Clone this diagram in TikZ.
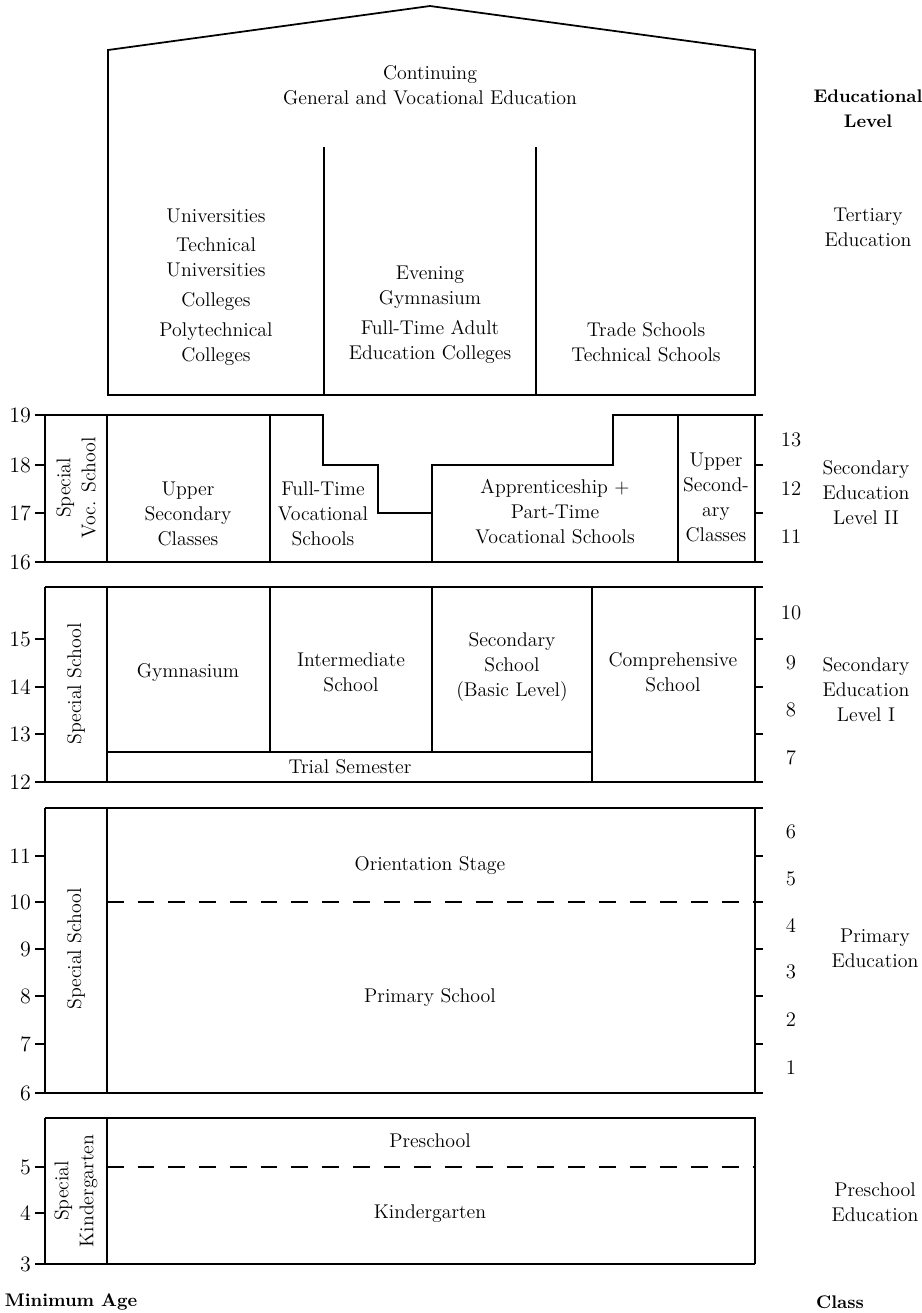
\documentclass[tikz,border=0pt]{standalone}
\usepackage{tikz}
\usetikzlibrary{positioning}
\tikzset{
        every node/.style={inner sep=0pt, outer sep=0pt},
        box/.style={
                line width=1pt,
                line join=miter
            },
        split/.style={
                line width=1pt,
                dash pattern=on 9.5pt off 8pt
            },
        schooltext/.style={
                align=center,
                font=\fontsize{11.3}{14.2}\selectfont
            },
        headtext/.style={
                align=center,
                font=\fontsize{10.4}{14.2}\selectfont\bfseries
            },
        agenum/.style={
                anchor=east,
                font=\fontsize{12.5}{14.2}\selectfont
            },
        classnum/.style={
                font=\fontsize{11.8}{14.2}\selectfont
            },
}

\begin{document}
\begin{tikzpicture}[x=0.02cm, y=-0.02cm]
  \useasboundingbox (0,0) rectangle (922,1313);
  % Tertiary (house)
  \draw[box] (108,395) -- (108,50) -- (430,6) -- (755,50) -- (755,395) -- cycle;
  \draw[box] (324,147) -- (324,395);
  \draw[box] (536,147) -- (536,395);
  \node[schooltext] (cont) at (430,85) {Continuing\\General and Vocational Education};
  \node[schooltext] (univ) at (216,287) {Universities\\[2.8pt]Technical\\Universities\\[2.8pt]Colleges\\[2.8pt]Polytechnical\\Colleges};
  \node[schooltext] (evening) at (430,315) {Evening\\Gymnasium\\[3pt]Full-Time Adult\\Education Colleges};
  \node[schooltext] (trade) at (646,342) {Trade Schools\\Technical Schools};

  % Secondary level II
  \draw[box] (35,415) -- (323,415) -- (323,465) -- (378,465) -- (378,513) -- (432,513)
    -- (432,465) -- (613,465) -- (613,415) -- (763,415);
  \draw[box] (35,562) -- (763,562);
  \draw[box] (45,415) -- (45,562);
  \draw[box] (107,415) -- (107,562);
  \draw[box] (270,415) -- (270,562);
  \draw[box] (432,513) -- (432,562);
  \draw[box] (678,415) -- (678,562);
  \draw[box] (755,415) -- (755,562);
  \node[schooltext, rotate=90] (specvoc) at (76,488) {Special\\Voc. School};
  \node[schooltext] (uppsec) at (188,514) {Upper\\Secondary\\Classes};
  \node[schooltext] (fulltime) at (323,514) {Full-Time\\Vocational\\Schools};
  \node[schooltext] (appr) at (555,512) {Apprenticeship +\\Part-Time\\Vocational Schools};
  \node[schooltext] (uppsecb) at (716,497) {Upper\\Second-\\ary\\Classes};

  % Secondary level I
  \draw[box] (45,587) -- (763,587);
  \draw[box] (35,782) -- (763,782);
  \draw[box] (45,587) -- (45,782);
  \draw[box] (107,587) -- (107,782);
  \draw[box] (270,587) -- (270,752);
  \draw[box] (432,587) -- (432,752);
  \draw[box] (592,587) -- (592,782);
  \draw[box] (755,587) -- (755,782);
  \draw[box] (107,752) -- (592,752);
  \node[schooltext, rotate=90] (specone) at (76,684) {Special School};
  \node[schooltext] (gym) at (188,673) {Gymnasium};
  \node[schooltext] (inter) at (351,672) {Intermediate\\School};
  \node[schooltext] (secbasic) at (512,667) {Secondary\\School\\(Basic Level)};
  \node[schooltext] (compr) at (673,672) {Comprehensive\\School};
  \node[schooltext] (trial) at (350,767) {Trial Semester};

  % Primary
  \draw[box] (45,808) -- (763,808);
  \draw[box] (35,1093) -- (763,1093);
  \draw[box] (45,808) -- (45,1093);
  \draw[box] (107,808) -- (107,1093);
  \draw[box] (755,808) -- (755,1093);
  \draw[split] (107,902) -- (755,902);
  \node[schooltext, rotate=90] (spectwo) at (76,949) {Special School};
  \node[schooltext] (orient) at (430,866) {Orientation Stage};
  \node[schooltext] (primschool) at (430,998) {Primary School};

  % Preschool
  \draw[box] (45,1118) -- (755,1118) -- (755,1264);
  \draw[box] (35,1264) -- (755,1264);
  \draw[box] (45,1118) -- (45,1264);
  \draw[box] (107,1118) -- (107,1264);
  \draw[split] (107,1167) -- (755,1167);
  \node[schooltext, rotate=90] (speckg) at (76,1191) {Special\\Kindergarten};
  \node[schooltext] (presch) at (430,1141) {Preschool};
  \node[schooltext] (kinder) at (430,1214) {Kindergarten};

  % Minimum age
  \foreach \a/\y in {19/415,18/465,17/513,16/562,15/639,14/687,13/734,12/782,
      11/856,10/902,9/949,8/996,7/1044,6/1093,5/1167,4/1213,3/1264}{
    \draw[box] (35,\y) -- (45,\y);
    \node[agenum, name=age\a] at (31,\y) {\a};
  }
  % Class
  \foreach \y in {465,513,639,687,734,856,902,949,996,1044}
    \draw[box] (755,\y) -- (763,\y);
  \foreach \c/\y in {13/440,12/489,11/537,10/613,9/663,8/710,7/758,
      6/832,5/879,4/925,3/972,2/1020,1/1068}
    \node[classnum, name=cls\c] at (791,\y) {\c};

  % Educational level
  \node[headtext] (edulevel) at (868,109) {Educational\\Level};
  \node[schooltext] (tertiary) at (868,227) {Tertiary\\Education};
  \node[schooltext] (secii) at (866,493) {Secondary\\Education\\Level II};
  \node[schooltext] (seci) at (866,690) {Secondary\\Education\\Level I};
  \node[schooltext] (primedu) at (875,948) {Primary\\Education};
  \node[schooltext] (preedu) at (875,1202) {Preschool\\Education};
  \node[headtext] (minage) at (71,1302) {Minimum Age};
  \node[headtext] (classhead) at (840,1302) {Class};
\end{tikzpicture}
\end{document}
